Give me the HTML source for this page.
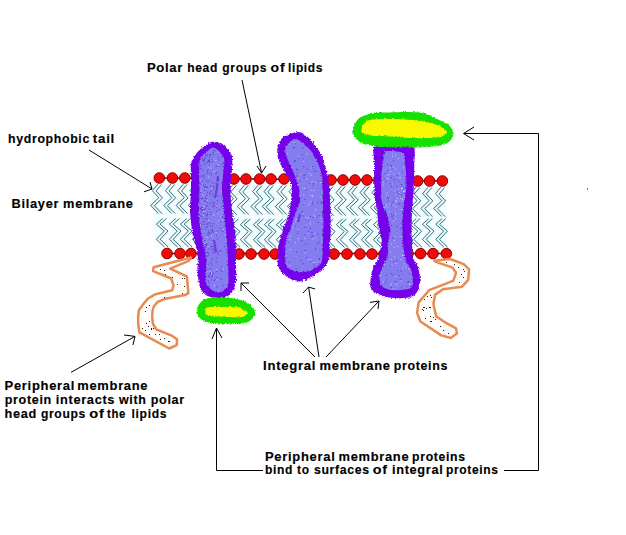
<!DOCTYPE html>
<html><head><meta charset="utf-8"><style>
html,body{margin:0;padding:0;background:#fff;}
svg{display:block;}
text{font-family:"Liberation Sans",sans-serif;}
</style></head><body>
<svg width="626" height="535" viewBox="0 0 626 535">
<rect width="626" height="535" fill="#fff"/>
<path d="M151,184 L446,187 L448,248 L155,248Z" fill="#f5fcfd"/>
<path d="M157.8,184.2 L152.4,190.6 L158.8,197.7 L150.6,205.4 L158.4,213.4 M161.5,184.5 L156.1,190.9 L162.5,198.0 L154.3,205.7 L162.1,213.7 M170.9,184.2 L165.5,190.6 L171.9,197.7 L163.7,205.4 L171.5,213.4 M174.6,184.5 L169.2,190.9 L175.6,198.0 L167.4,205.7 L175.2,213.7 M183.3,184.2 L177.9,190.6 L184.3,197.7 L176.1,205.4 L183.9,213.4 M187.0,184.5 L181.6,190.9 L188.0,198.0 L179.8,205.7 L187.6,213.7 M195.5,184.2 L190.1,190.6 L196.5,197.7 L188.3,205.4 L196.1,213.4 M199.2,184.5 L193.8,190.9 L200.2,198.0 L192.0,205.7 L199.8,213.7 M207.5,184.2 L202.1,190.6 L208.5,197.7 L200.3,205.4 L208.1,213.4 M211.2,184.5 L205.8,190.9 L212.2,198.0 L204.0,205.7 L211.8,213.7 M220.5,185.2 L215.1,191.6 L221.5,198.7 L213.3,206.4 L221.1,214.4 M224.2,185.5 L218.8,191.9 L225.2,199.0 L217.0,206.7 L224.8,214.7 M232.5,185.2 L227.1,191.6 L233.5,198.7 L225.3,206.4 L233.1,214.4 M236.2,185.5 L230.8,191.9 L237.2,199.0 L229.0,206.7 L236.8,214.7 M244.5,185.2 L239.1,191.6 L245.5,198.7 L237.3,206.4 L245.1,214.4 M248.2,185.5 L242.8,191.9 L249.2,199.0 L241.0,206.7 L248.8,214.7 M258.1,185.2 L252.7,191.6 L259.1,198.7 L250.9,206.4 L258.7,214.4 M261.8,185.5 L256.4,191.9 L262.8,199.0 L254.6,206.7 L262.4,214.7 M269.5,185.2 L264.1,191.6 L270.5,198.7 L262.3,206.4 L270.1,214.4 M273.2,185.5 L267.8,191.9 L274.2,199.0 L266.0,206.7 L273.8,214.7 M282.5,185.2 L277.1,191.6 L283.5,198.7 L275.3,206.4 L283.1,214.4 M286.2,185.5 L280.8,191.9 L287.2,199.0 L279.0,206.7 L286.8,214.7 M294.5,185.2 L289.1,191.6 L295.5,198.7 L287.3,206.4 L295.1,214.4 M298.2,185.5 L292.8,191.9 L299.2,199.0 L291.0,206.7 L298.8,214.7 M305.5,186.2 L300.1,192.6 L306.5,199.7 L298.3,207.4 L306.1,215.4 M309.2,186.5 L303.8,192.9 L310.2,200.0 L302.0,207.7 L309.8,215.7 M317.5,186.2 L312.1,192.6 L318.5,199.7 L310.3,207.4 L318.1,215.4 M321.2,186.5 L315.8,192.9 L322.2,200.0 L314.0,207.7 L321.8,215.7 M329.5,186.2 L324.1,192.6 L330.5,199.7 L322.3,207.4 L330.1,215.4 M333.2,186.5 L327.8,192.9 L334.2,200.0 L326.0,207.7 L333.8,215.7 M341.5,186.2 L336.1,192.6 L342.5,199.7 L334.3,207.4 L342.1,215.4 M345.2,186.5 L339.8,192.9 L346.2,200.0 L338.0,207.7 L345.8,215.7 M353.5,186.2 L348.1,192.6 L354.5,199.7 L346.3,207.4 L354.1,215.4 M357.2,186.5 L351.8,192.9 L358.2,200.0 L350.0,207.7 L357.8,215.7 M365.5,186.2 L360.1,192.6 L366.5,199.7 L358.3,207.4 L366.1,215.4 M369.2,186.5 L363.8,192.9 L370.2,200.0 L362.0,207.7 L369.8,215.7 M377.5,186.2 L372.1,192.6 L378.5,199.7 L370.3,207.4 L378.1,215.4 M381.2,186.5 L375.8,192.9 L382.2,200.0 L374.0,207.7 L381.8,215.7 M390.5,187.2 L385.1,193.6 L391.5,200.7 L383.3,208.4 L391.1,216.4 M394.2,187.5 L388.8,193.9 L395.2,201.0 L387.0,208.7 L394.8,216.7 M403.5,187.2 L398.1,193.6 L404.5,200.7 L396.3,208.4 L404.1,216.4 M407.2,187.5 L401.8,193.9 L408.2,201.0 L400.0,208.7 L407.8,216.7 M416.1,187.2 L410.7,193.6 L417.1,200.7 L408.9,208.4 L416.7,216.4 M419.8,187.5 L414.4,193.9 L420.8,201.0 L412.6,208.7 L420.4,216.7 M428.1,187.2 L422.7,193.6 L429.1,200.7 L420.9,208.4 L428.7,216.4 M431.8,187.5 L426.4,193.9 L432.8,201.0 L424.6,208.7 L432.4,216.7 M440.9,187.2 L435.5,193.6 L441.9,200.7 L433.7,208.4 L441.5,216.4 M444.6,187.5 L439.2,193.9 L445.6,201.0 L437.4,208.7 L445.2,216.7 M162.7,218.5 L156.4,224.2 L164.3,231.0 L156.4,239.3 L164.5,247.0 M166.4,218.5 L160.1,224.2 L168.0,231.0 L160.1,239.3 L168.2,247.0 M175.7,218.5 L169.4,224.2 L177.3,231.0 L169.4,239.3 L177.5,247.0 M179.4,218.5 L173.1,224.2 L181.0,231.0 L173.1,239.3 L181.2,247.0 M186.7,218.5 L180.4,224.2 L188.3,231.0 L180.4,239.3 L188.5,247.0 M190.4,218.5 L184.1,224.2 L192.0,231.0 L184.1,239.3 L192.2,247.0 M198.7,218.5 L192.4,224.2 L200.3,231.0 L192.4,239.3 L200.5,247.0 M202.4,218.5 L196.1,224.2 L204.0,231.0 L196.1,239.3 L204.2,247.0 M210.7,218.5 L204.4,224.2 L212.3,231.0 L204.4,239.3 L212.5,247.0 M214.4,218.5 L208.1,224.2 L216.0,231.0 L208.1,239.3 L216.2,247.0 M222.7,219.0 L216.4,224.7 L224.3,231.5 L216.4,239.8 L224.5,247.5 M226.4,219.0 L220.1,224.7 L228.0,231.5 L220.1,239.8 L228.2,247.5 M234.7,219.0 L228.4,224.7 L236.3,231.5 L228.4,239.8 L236.5,247.5 M238.4,219.0 L232.1,224.7 L240.0,231.5 L232.1,239.8 L240.2,247.5 M246.7,219.0 L240.4,224.7 L248.3,231.5 L240.4,239.8 L248.5,247.5 M250.4,219.0 L244.1,224.7 L252.0,231.5 L244.1,239.8 L252.2,247.5 M259.7,219.0 L253.4,224.7 L261.3,231.5 L253.4,239.8 L261.5,247.5 M263.4,219.0 L257.1,224.7 L265.0,231.5 L257.1,239.8 L265.2,247.5 M270.7,219.0 L264.4,224.7 L272.3,231.5 L264.4,239.8 L272.5,247.5 M274.4,219.0 L268.1,224.7 L276.0,231.5 L268.1,239.8 L276.2,247.5 M282.7,219.0 L276.4,224.7 L284.3,231.5 L276.4,239.8 L284.5,247.5 M286.4,219.0 L280.1,224.7 L288.0,231.5 L280.1,239.8 L288.2,247.5 M294.7,219.0 L288.4,224.7 L296.3,231.5 L288.4,239.8 L296.5,247.5 M298.4,219.0 L292.1,224.7 L300.0,231.5 L292.1,239.8 L300.2,247.5 M305.7,219.0 L299.4,224.7 L307.3,231.5 L299.4,239.8 L307.5,247.5 M309.4,219.0 L303.1,224.7 L311.0,231.5 L303.1,239.8 L311.2,247.5 M317.7,219.0 L311.4,224.7 L319.3,231.5 L311.4,239.8 L319.5,247.5 M321.4,219.0 L315.1,224.7 L323.0,231.5 L315.1,239.8 L323.2,247.5 M329.7,219.0 L323.4,224.7 L331.3,231.5 L323.4,239.8 L331.5,247.5 M333.4,219.0 L327.1,224.7 L335.0,231.5 L327.1,239.8 L335.2,247.5 M342.7,219.0 L336.4,224.7 L344.3,231.5 L336.4,239.8 L344.5,247.5 M346.4,219.0 L340.1,224.7 L348.0,231.5 L340.1,239.8 L348.2,247.5 M355.7,219.0 L349.4,224.7 L357.3,231.5 L349.4,239.8 L357.5,247.5 M359.4,219.0 L353.1,224.7 L361.0,231.5 L353.1,239.8 L361.2,247.5 M367.7,219.0 L361.4,224.7 L369.3,231.5 L361.4,239.8 L369.5,247.5 M371.4,219.0 L365.1,224.7 L373.0,231.5 L365.1,239.8 L373.2,247.5 M379.7,219.0 L373.4,224.7 L381.3,231.5 L373.4,239.8 L381.5,247.5 M383.4,219.0 L377.1,224.7 L385.0,231.5 L377.1,239.8 L385.2,247.5 M391.7,218.6 L385.4,224.3 L393.3,231.1 L385.4,239.4 L393.5,247.1 M395.4,218.6 L389.1,224.3 L397.0,231.1 L389.1,239.4 L397.2,247.1 M403.7,218.6 L397.4,224.3 L405.3,231.1 L397.4,239.4 L405.5,247.1 M407.4,218.6 L401.1,224.3 L409.0,231.1 L401.1,239.4 L409.2,247.1 M416.3,218.6 L410.0,224.3 L417.9,231.1 L410.0,239.4 L418.1,247.1 M420.0,218.6 L413.7,224.3 L421.6,231.1 L413.7,239.4 L421.8,247.1 M428.7,218.6 L422.4,224.3 L430.3,231.1 L422.4,239.4 L430.5,247.1 M432.4,218.6 L426.1,224.3 L434.0,231.1 L426.1,239.4 L434.2,247.1 M442.1,218.6 L435.8,224.3 L443.7,231.1 L435.8,239.4 L443.9,247.1 M445.8,218.6 L439.5,224.3 L447.4,231.1 L439.5,239.4 L447.6,247.1" fill="none" stroke="#ecfbfc" stroke-width="3"/>
<path d="M157.8,184.2 L152.4,190.6 L158.8,197.7 L150.6,205.4 L158.4,213.4 M161.5,184.5 L156.1,190.9 L162.5,198.0 L154.3,205.7 L162.1,213.7 M170.9,184.2 L165.5,190.6 L171.9,197.7 L163.7,205.4 L171.5,213.4 M174.6,184.5 L169.2,190.9 L175.6,198.0 L167.4,205.7 L175.2,213.7 M183.3,184.2 L177.9,190.6 L184.3,197.7 L176.1,205.4 L183.9,213.4 M187.0,184.5 L181.6,190.9 L188.0,198.0 L179.8,205.7 L187.6,213.7 M195.5,184.2 L190.1,190.6 L196.5,197.7 L188.3,205.4 L196.1,213.4 M199.2,184.5 L193.8,190.9 L200.2,198.0 L192.0,205.7 L199.8,213.7 M207.5,184.2 L202.1,190.6 L208.5,197.7 L200.3,205.4 L208.1,213.4 M211.2,184.5 L205.8,190.9 L212.2,198.0 L204.0,205.7 L211.8,213.7 M220.5,185.2 L215.1,191.6 L221.5,198.7 L213.3,206.4 L221.1,214.4 M224.2,185.5 L218.8,191.9 L225.2,199.0 L217.0,206.7 L224.8,214.7 M232.5,185.2 L227.1,191.6 L233.5,198.7 L225.3,206.4 L233.1,214.4 M236.2,185.5 L230.8,191.9 L237.2,199.0 L229.0,206.7 L236.8,214.7 M244.5,185.2 L239.1,191.6 L245.5,198.7 L237.3,206.4 L245.1,214.4 M248.2,185.5 L242.8,191.9 L249.2,199.0 L241.0,206.7 L248.8,214.7 M258.1,185.2 L252.7,191.6 L259.1,198.7 L250.9,206.4 L258.7,214.4 M261.8,185.5 L256.4,191.9 L262.8,199.0 L254.6,206.7 L262.4,214.7 M269.5,185.2 L264.1,191.6 L270.5,198.7 L262.3,206.4 L270.1,214.4 M273.2,185.5 L267.8,191.9 L274.2,199.0 L266.0,206.7 L273.8,214.7 M282.5,185.2 L277.1,191.6 L283.5,198.7 L275.3,206.4 L283.1,214.4 M286.2,185.5 L280.8,191.9 L287.2,199.0 L279.0,206.7 L286.8,214.7 M294.5,185.2 L289.1,191.6 L295.5,198.7 L287.3,206.4 L295.1,214.4 M298.2,185.5 L292.8,191.9 L299.2,199.0 L291.0,206.7 L298.8,214.7 M305.5,186.2 L300.1,192.6 L306.5,199.7 L298.3,207.4 L306.1,215.4 M309.2,186.5 L303.8,192.9 L310.2,200.0 L302.0,207.7 L309.8,215.7 M317.5,186.2 L312.1,192.6 L318.5,199.7 L310.3,207.4 L318.1,215.4 M321.2,186.5 L315.8,192.9 L322.2,200.0 L314.0,207.7 L321.8,215.7 M329.5,186.2 L324.1,192.6 L330.5,199.7 L322.3,207.4 L330.1,215.4 M333.2,186.5 L327.8,192.9 L334.2,200.0 L326.0,207.7 L333.8,215.7 M341.5,186.2 L336.1,192.6 L342.5,199.7 L334.3,207.4 L342.1,215.4 M345.2,186.5 L339.8,192.9 L346.2,200.0 L338.0,207.7 L345.8,215.7 M353.5,186.2 L348.1,192.6 L354.5,199.7 L346.3,207.4 L354.1,215.4 M357.2,186.5 L351.8,192.9 L358.2,200.0 L350.0,207.7 L357.8,215.7 M365.5,186.2 L360.1,192.6 L366.5,199.7 L358.3,207.4 L366.1,215.4 M369.2,186.5 L363.8,192.9 L370.2,200.0 L362.0,207.7 L369.8,215.7 M377.5,186.2 L372.1,192.6 L378.5,199.7 L370.3,207.4 L378.1,215.4 M381.2,186.5 L375.8,192.9 L382.2,200.0 L374.0,207.7 L381.8,215.7 M390.5,187.2 L385.1,193.6 L391.5,200.7 L383.3,208.4 L391.1,216.4 M394.2,187.5 L388.8,193.9 L395.2,201.0 L387.0,208.7 L394.8,216.7 M403.5,187.2 L398.1,193.6 L404.5,200.7 L396.3,208.4 L404.1,216.4 M407.2,187.5 L401.8,193.9 L408.2,201.0 L400.0,208.7 L407.8,216.7 M416.1,187.2 L410.7,193.6 L417.1,200.7 L408.9,208.4 L416.7,216.4 M419.8,187.5 L414.4,193.9 L420.8,201.0 L412.6,208.7 L420.4,216.7 M428.1,187.2 L422.7,193.6 L429.1,200.7 L420.9,208.4 L428.7,216.4 M431.8,187.5 L426.4,193.9 L432.8,201.0 L424.6,208.7 L432.4,216.7 M440.9,187.2 L435.5,193.6 L441.9,200.7 L433.7,208.4 L441.5,216.4 M444.6,187.5 L439.2,193.9 L445.6,201.0 L437.4,208.7 L445.2,216.7 M162.7,218.5 L156.4,224.2 L164.3,231.0 L156.4,239.3 L164.5,247.0 M166.4,218.5 L160.1,224.2 L168.0,231.0 L160.1,239.3 L168.2,247.0 M175.7,218.5 L169.4,224.2 L177.3,231.0 L169.4,239.3 L177.5,247.0 M179.4,218.5 L173.1,224.2 L181.0,231.0 L173.1,239.3 L181.2,247.0 M186.7,218.5 L180.4,224.2 L188.3,231.0 L180.4,239.3 L188.5,247.0 M190.4,218.5 L184.1,224.2 L192.0,231.0 L184.1,239.3 L192.2,247.0 M198.7,218.5 L192.4,224.2 L200.3,231.0 L192.4,239.3 L200.5,247.0 M202.4,218.5 L196.1,224.2 L204.0,231.0 L196.1,239.3 L204.2,247.0 M210.7,218.5 L204.4,224.2 L212.3,231.0 L204.4,239.3 L212.5,247.0 M214.4,218.5 L208.1,224.2 L216.0,231.0 L208.1,239.3 L216.2,247.0 M222.7,219.0 L216.4,224.7 L224.3,231.5 L216.4,239.8 L224.5,247.5 M226.4,219.0 L220.1,224.7 L228.0,231.5 L220.1,239.8 L228.2,247.5 M234.7,219.0 L228.4,224.7 L236.3,231.5 L228.4,239.8 L236.5,247.5 M238.4,219.0 L232.1,224.7 L240.0,231.5 L232.1,239.8 L240.2,247.5 M246.7,219.0 L240.4,224.7 L248.3,231.5 L240.4,239.8 L248.5,247.5 M250.4,219.0 L244.1,224.7 L252.0,231.5 L244.1,239.8 L252.2,247.5 M259.7,219.0 L253.4,224.7 L261.3,231.5 L253.4,239.8 L261.5,247.5 M263.4,219.0 L257.1,224.7 L265.0,231.5 L257.1,239.8 L265.2,247.5 M270.7,219.0 L264.4,224.7 L272.3,231.5 L264.4,239.8 L272.5,247.5 M274.4,219.0 L268.1,224.7 L276.0,231.5 L268.1,239.8 L276.2,247.5 M282.7,219.0 L276.4,224.7 L284.3,231.5 L276.4,239.8 L284.5,247.5 M286.4,219.0 L280.1,224.7 L288.0,231.5 L280.1,239.8 L288.2,247.5 M294.7,219.0 L288.4,224.7 L296.3,231.5 L288.4,239.8 L296.5,247.5 M298.4,219.0 L292.1,224.7 L300.0,231.5 L292.1,239.8 L300.2,247.5 M305.7,219.0 L299.4,224.7 L307.3,231.5 L299.4,239.8 L307.5,247.5 M309.4,219.0 L303.1,224.7 L311.0,231.5 L303.1,239.8 L311.2,247.5 M317.7,219.0 L311.4,224.7 L319.3,231.5 L311.4,239.8 L319.5,247.5 M321.4,219.0 L315.1,224.7 L323.0,231.5 L315.1,239.8 L323.2,247.5 M329.7,219.0 L323.4,224.7 L331.3,231.5 L323.4,239.8 L331.5,247.5 M333.4,219.0 L327.1,224.7 L335.0,231.5 L327.1,239.8 L335.2,247.5 M342.7,219.0 L336.4,224.7 L344.3,231.5 L336.4,239.8 L344.5,247.5 M346.4,219.0 L340.1,224.7 L348.0,231.5 L340.1,239.8 L348.2,247.5 M355.7,219.0 L349.4,224.7 L357.3,231.5 L349.4,239.8 L357.5,247.5 M359.4,219.0 L353.1,224.7 L361.0,231.5 L353.1,239.8 L361.2,247.5 M367.7,219.0 L361.4,224.7 L369.3,231.5 L361.4,239.8 L369.5,247.5 M371.4,219.0 L365.1,224.7 L373.0,231.5 L365.1,239.8 L373.2,247.5 M379.7,219.0 L373.4,224.7 L381.3,231.5 L373.4,239.8 L381.5,247.5 M383.4,219.0 L377.1,224.7 L385.0,231.5 L377.1,239.8 L385.2,247.5 M391.7,218.6 L385.4,224.3 L393.3,231.1 L385.4,239.4 L393.5,247.1 M395.4,218.6 L389.1,224.3 L397.0,231.1 L389.1,239.4 L397.2,247.1 M403.7,218.6 L397.4,224.3 L405.3,231.1 L397.4,239.4 L405.5,247.1 M407.4,218.6 L401.1,224.3 L409.0,231.1 L401.1,239.4 L409.2,247.1 M416.3,218.6 L410.0,224.3 L417.9,231.1 L410.0,239.4 L418.1,247.1 M420.0,218.6 L413.7,224.3 L421.6,231.1 L413.7,239.4 L421.8,247.1 M428.7,218.6 L422.4,224.3 L430.3,231.1 L422.4,239.4 L430.5,247.1 M432.4,218.6 L426.1,224.3 L434.0,231.1 L426.1,239.4 L434.2,247.1 M442.1,218.6 L435.8,224.3 L443.7,231.1 L435.8,239.4 L443.9,247.1 M445.8,218.6 L439.5,224.3 L447.4,231.1 L439.5,239.4 L447.6,247.1" fill="none" stroke="#2f6878" stroke-width="0.95"/>
<path d="M159,178 L442,181 M167,253.5 L446,253.6" stroke="#700" stroke-width="1.5"/>
<g fill="#f00a0a" stroke="#900000" stroke-width="1"><circle cx="159.3" cy="178" r="5.3"/><circle cx="172.4" cy="178" r="5.3"/><circle cx="184.8" cy="178" r="5.3"/><circle cx="197" cy="178" r="5.3"/><circle cx="209" cy="178" r="5.3"/><circle cx="222" cy="179" r="5.3"/><circle cx="234" cy="179" r="5.3"/><circle cx="246" cy="179" r="5.3"/><circle cx="259.6" cy="179" r="5.3"/><circle cx="271" cy="179" r="5.3"/><circle cx="284" cy="179" r="5.3"/><circle cx="296" cy="179" r="5.3"/><circle cx="307" cy="180" r="5.3"/><circle cx="319" cy="180" r="5.3"/><circle cx="331" cy="180" r="5.3"/><circle cx="343" cy="180" r="5.3"/><circle cx="355" cy="180" r="5.3"/><circle cx="367" cy="180" r="5.3"/><circle cx="379" cy="180" r="5.3"/><circle cx="392" cy="181" r="5.3"/><circle cx="405" cy="181" r="5.3"/><circle cx="417.6" cy="181" r="5.3"/><circle cx="429.6" cy="181" r="5.3"/><circle cx="442.4" cy="181" r="5.3"/><circle cx="167" cy="253.5" r="5.3"/><circle cx="180" cy="253.5" r="5.3"/><circle cx="191" cy="253.5" r="5.3"/><circle cx="203" cy="253.5" r="5.3"/><circle cx="215" cy="253.5" r="5.3"/><circle cx="227" cy="254" r="5.3"/><circle cx="239" cy="254" r="5.3"/><circle cx="251" cy="254" r="5.3"/><circle cx="264" cy="254" r="5.3"/><circle cx="275" cy="254" r="5.3"/><circle cx="287" cy="254" r="5.3"/><circle cx="299" cy="254" r="5.3"/><circle cx="310" cy="254" r="5.3"/><circle cx="322" cy="254" r="5.3"/><circle cx="334" cy="254" r="5.3"/><circle cx="347" cy="254" r="5.3"/><circle cx="360" cy="254" r="5.3"/><circle cx="372" cy="254" r="5.3"/><circle cx="384" cy="254" r="5.3"/><circle cx="396" cy="253.6" r="5.3"/><circle cx="408" cy="253.6" r="5.3"/><circle cx="420.6" cy="253.6" r="5.3"/><circle cx="433" cy="253.6" r="5.3"/><circle cx="446.4" cy="253.6" r="5.3"/></g>
<path d="M190.8,257.5 L153.5,267.3 L153.1,271.2 L171.2,278.5 L173.5,285.3 L172.2,290.2 L155.5,294.2 L148.0,298.5 L142.7,304.9 L139.0,310.0 L138.2,316.0 L138.2,324.0 L139.4,332.4 L169.2,348.5 L176.7,345.1 L177.1,339.3 L171.2,335.3 L156.5,329.5 L153.0,324.0 L152.2,317.7 L152.5,311.0 L153.8,306.5 L157.5,302.0 L164.3,299.1 L184.9,295.1 L188.4,293.2 L186.9,276.5 L170.2,268.7 L188.8,260.8Z" fill="#fffdf9" stroke="#e98a52" stroke-width="2.5" stroke-linejoin="round"/>
<path d="M434.3,260.7 L450.0,259.0 L463.8,264.2 L469.1,269.4 L468.2,279.8 L462.1,286.7 L443.0,289.3 L435.2,294.6 L433.4,304.1 L436.1,316.3 L446.5,323.2 L456.0,328.4 L456.9,333.6 L450.8,338.0 L441.3,335.4 L420.4,321.5 L417.0,312.8 L418.7,302.4 L429.1,290.2 L444.7,284.1 L453.4,280.7 L456.0,272.8 L452.6,267.6 L435.2,261.6Z" fill="#fffdf9" stroke="#e98a52" stroke-width="2.5" stroke-linejoin="round"/>
<defs><filter id="fz" x="-10%" y="-10%" width="120%" height="120%"><feTurbulence type="turbulence" baseFrequency="0.9" numOctaves="1" seed="3" result="n"/><feDisplacementMap in="SourceGraphic" in2="n" scale="3.2" xChannelSelector="R" yChannelSelector="G"/></filter><filter id="fz2" x="-10%" y="-10%" width="120%" height="120%"><feTurbulence type="turbulence" baseFrequency="0.9" numOctaves="1" seed="7" result="n"/><feDisplacementMap in="SourceGraphic" in2="n" scale="2.2" xChannelSelector="R" yChannelSelector="G"/></filter></defs>
<path d="M211.4,140.8 C213.9,140.5 217.6,141.3 220.0,142.4 C222.4,143.5 223.9,145.3 225.7,147.2 C227.4,149.1 229.6,151.1 230.5,153.6 C231.4,156.1 231.3,158.8 231.3,162.4 C231.3,166.0 230.8,170.4 230.5,175.0 C230.2,179.6 229.4,184.2 229.5,190.0 C229.6,195.8 230.2,203.3 231.0,210.0 C231.8,216.7 233.3,223.0 234.0,230.0 C234.7,237.0 234.8,246.5 235.0,252.0 C235.2,257.5 235.0,258.5 235.0,263.0 C235.0,267.5 235.5,274.6 235.0,279.0 C234.5,283.4 233.6,286.8 232.0,289.5 C230.4,292.2 228.7,294.3 225.3,295.5 C221.9,296.7 215.5,297.0 211.8,296.5 C208.1,296.0 205.4,294.6 203.2,292.5 C201.0,290.4 199.5,287.9 198.4,284.0 C197.3,280.1 196.8,274.7 196.5,269.4 C196.2,264.1 197.2,257.7 196.5,252.0 C195.8,246.3 193.2,242.0 192.0,235.0 C190.8,228.0 189.3,217.5 189.0,210.0 C188.7,202.5 189.9,196.7 190.0,190.0 C190.1,183.3 189.8,174.7 189.8,170.0 C189.8,165.3 189.8,164.1 190.2,162.0 C190.6,159.9 191.1,159.5 192.2,157.6 C193.3,155.7 194.9,152.7 197.0,150.4 C199.1,148.1 202.6,145.6 205.0,144.0 C207.4,142.4 208.9,141.1 211.4,140.8Z" fill="#7406ea" filter="url(#fz)"/>
<path d="M212.0,146.4 C214.5,146.4 218.1,149.7 220.0,152.0 C221.9,154.3 223.0,156.2 223.3,160.0 C223.6,163.8 222.4,170.0 222.0,175.0 C221.6,180.0 220.8,185.0 221.0,190.0 C221.2,195.0 222.5,200.0 223.0,205.0 C223.5,210.0 223.5,214.2 224.0,220.0 C224.5,225.8 225.5,232.6 226.0,240.0 C226.5,247.4 227.0,257.3 227.2,264.6 C227.4,271.9 227.8,279.7 227.2,283.8 C226.6,287.9 225.3,288.2 223.4,289.5 C221.5,290.8 218.3,291.9 215.7,291.4 C213.1,290.9 209.8,288.7 208.0,286.6 C206.2,284.5 205.6,284.3 205.1,279.0 C204.6,273.7 205.9,262.3 205.1,255.0 C204.3,247.7 201.7,241.7 200.5,235.0 C199.3,228.3 198.3,222.5 198.0,215.0 C197.7,207.5 198.4,199.2 198.5,190.0 C198.6,180.8 197.5,166.3 198.6,160.0 C199.7,153.7 202.8,154.3 205.0,152.0 C207.2,149.7 209.5,146.4 212.0,146.4Z" fill="#857cf0" filter="url(#fz2)"/>
<path d="M295.9,131.3 C298.9,131.0 300.2,131.3 302.6,132.7 C305.0,134.0 308.1,137.0 310.3,139.4 C312.5,141.8 314.2,144.5 316.0,147.1 C317.8,149.7 319.5,152.1 320.8,154.8 C322.1,157.5 322.8,160.5 323.7,163.4 C324.6,166.3 325.3,168.4 326.0,172.0 C326.7,175.6 327.5,180.3 328.0,185.0 C328.5,189.7 328.7,194.0 329.0,200.0 C329.3,206.0 329.7,214.0 329.7,221.0 C329.7,228.0 329.2,236.8 329.0,242.0 C328.8,247.2 328.7,249.0 328.2,252.5 C327.7,256.0 327.7,259.7 326.0,262.8 C324.3,265.9 320.6,268.9 317.8,271.2 C315.1,273.4 312.6,274.8 309.5,276.3 C306.4,277.9 302.1,280.1 299.0,280.5 C295.9,280.9 293.6,279.6 290.8,278.4 C288.1,277.2 284.8,275.3 282.5,273.2 C280.2,271.1 278.3,269.8 277.3,266.0 C276.3,262.2 276.5,254.7 276.7,250.4 C276.9,246.1 277.5,243.2 278.3,240.0 C279.1,236.8 280.4,234.2 281.5,231.0 C282.6,227.8 283.9,224.3 285.0,221.0 C286.1,217.7 287.2,214.5 288.0,211.0 C288.8,207.5 289.6,204.3 290.0,200.0 C290.4,195.7 291.2,189.2 290.5,185.0 C289.8,180.8 287.7,178.3 286.0,175.0 C284.3,171.7 281.9,168.0 280.5,165.3 C279.1,162.6 278.4,161.0 277.7,158.6 C277.0,156.2 276.2,153.6 276.2,150.9 C276.2,148.2 276.3,145.0 277.7,142.3 C279.1,139.6 281.4,136.4 284.4,134.6 C287.4,132.8 292.9,131.6 295.9,131.3Z" fill="#7406ea" filter="url(#fz)"/>
<path d="M294.0,138.5 C296.1,138.0 297.3,138.8 299.7,140.4 C302.1,142.0 306.0,145.4 308.4,148.0 C310.8,150.6 312.5,153.0 314.1,155.7 C315.7,158.4 316.9,161.2 318.0,164.4 C319.1,167.6 320.3,170.7 321.0,175.0 C321.7,179.3 321.8,185.0 322.0,190.0 C322.2,195.0 321.9,199.8 322.0,205.0 C322.1,210.2 322.5,215.2 322.5,221.0 C322.5,226.8 322.1,235.1 322.0,240.0 C321.9,244.9 322.4,246.6 322.0,250.4 C321.6,254.2 321.6,259.7 319.8,262.8 C318.1,265.9 315.0,267.6 311.5,269.0 C308.0,270.4 302.8,271.4 299.0,271.2 C295.2,271.0 291.1,269.7 288.7,268.0 C286.3,266.3 285.1,265.1 284.5,260.8 C283.9,256.5 284.3,247.0 285.0,242.0 C285.7,237.0 287.4,234.5 288.6,231.0 C289.8,227.5 290.9,224.3 292.0,221.0 C293.1,217.7 293.8,214.5 295.0,211.0 C296.2,207.5 298.6,204.3 299.0,200.0 C299.4,195.7 298.3,189.2 297.5,185.0 C296.7,180.8 295.2,178.3 294.0,175.0 C292.8,171.7 291.4,168.2 290.1,165.3 C288.8,162.4 287.2,160.2 286.3,157.6 C285.4,155.0 284.2,152.4 284.4,150.0 C284.6,147.6 285.7,145.2 287.3,143.3 C288.9,141.4 291.9,139.0 294.0,138.5Z" fill="#857cf0" filter="url(#fz2)"/>
<path d="M380.0,145.0 C385.5,144.7 400.5,144.7 406.0,145.0 C411.5,145.3 412.0,143.7 413.2,147.0 C414.4,150.3 413.4,157.8 413.3,165.0 C413.2,172.2 412.9,182.5 412.5,190.0 C412.1,197.5 411.3,203.0 411.0,210.0 C410.7,217.0 410.5,227.0 410.5,232.0 C410.5,237.0 410.8,235.9 411.0,240.0 C411.2,244.1 411.1,252.7 412.0,256.8 C412.9,260.9 415.5,261.5 416.6,264.7 C417.7,267.9 418.6,272.2 418.8,275.9 C419.0,279.6 418.8,283.8 417.7,287.0 C416.6,290.2 415.2,293.3 412.0,295.0 C408.8,296.7 403.6,297.2 398.6,297.2 C393.6,297.2 386.5,296.5 381.8,295.0 C377.1,293.5 372.7,290.8 370.6,288.2 C368.6,285.6 369.3,282.6 369.5,279.2 C369.7,275.8 370.4,271.7 371.7,268.0 C373.0,264.3 375.8,261.5 377.3,256.8 C378.8,252.1 380.5,244.1 380.7,240.0 C380.9,235.9 379.3,237.0 378.5,232.0 C377.7,227.0 376.8,217.0 376.0,210.0 C375.2,203.0 374.0,197.5 373.5,190.0 C373.0,182.5 373.1,172.2 373.0,165.0 C372.9,157.8 371.6,150.3 372.8,147.0 C374.0,143.7 374.5,145.3 380.0,145.0Z" fill="#7406ea" filter="url(#fz)"/>
<path d="M387.4,150.0 C390.5,149.8 399.2,150.2 402.0,152.3 C404.8,154.4 403.6,157.0 404.2,162.4 C404.8,167.8 405.5,178.5 405.4,184.8 C405.3,191.1 404.3,195.1 403.7,200.0 C403.1,204.9 402.4,209.0 402.0,214.0 C401.6,219.0 401.5,225.7 401.5,230.0 C401.5,234.3 401.6,235.5 402.0,240.0 C402.4,244.5 402.9,252.1 404.2,256.8 C405.5,261.5 408.5,264.5 409.8,268.0 C411.1,271.5 412.0,274.8 412.0,278.0 C412.0,281.2 413.0,285.1 409.8,287.0 C406.6,288.9 397.7,289.5 393.0,289.3 C388.3,289.1 384.2,288.1 381.8,286.0 C379.4,283.9 378.7,280.0 378.5,277.0 C378.3,274.0 379.4,271.4 380.7,268.0 C382.0,264.6 385.2,261.5 386.3,256.8 C387.4,252.1 386.9,244.5 387.4,240.0 C387.9,235.5 389.7,234.3 389.5,230.0 C389.3,225.7 387.5,219.0 386.0,214.0 C384.5,209.0 381.6,206.7 380.7,200.0 C379.8,193.3 380.2,181.3 380.7,173.6 C381.2,165.8 382.4,157.4 383.5,153.5 C384.6,149.6 384.3,150.2 387.4,150.0Z" fill="#857cf0" filter="url(#fz2)"/>
<path d="M218,176 L217,188 L215,198 M214,240 L216,252 M300,214 L298,222" stroke="#5d2ad0" stroke-width="2.2" fill="none" opacity="0.7"/>
<path d="M198.8,213.9h1v1h-1zM217.0,277.0h1v1h-1zM211.7,182.2h1v1h-1zM204.3,186.9h1v1h-1zM202.1,235.9h1v1h-1zM204.1,177.6h1v1h-1zM206.7,198.8h1v1h-1zM202.3,155.8h1v1h-1zM217.8,195.4h1v1h-1zM221.9,216.1h1v1h-1zM212.1,248.6h1v1h-1zM219.9,268.9h1v1h-1zM225.1,283.0h1v1h-1zM208.4,222.5h1v1h-1zM221.3,271.1h1v1h-1zM207.9,235.0h1v1h-1zM207.9,280.4h1v1h-1zM207.1,192.3h1v1h-1zM200.3,168.0h1v1h-1zM213.6,205.3h1v1h-1zM210.3,154.5h1v1h-1zM199.0,218.0h1v1h-1zM201.1,209.4h1v1h-1zM212.3,252.2h1v1h-1zM206.5,204.9h1v1h-1zM212.6,195.5h1v1h-1zM206.0,259.8h1v1h-1zM208.6,260.4h1v1h-1zM208.6,248.5h1v1h-1zM212.2,258.0h1v1h-1zM217.0,230.6h1v1h-1zM214.0,182.8h1v1h-1zM211.5,264.8h1v1h-1zM213.1,223.2h1v1h-1zM202.7,210.4h1v1h-1zM204.4,245.9h1v1h-1zM199.2,214.8h1v1h-1zM199.6,165.8h1v1h-1zM203.3,174.4h1v1h-1zM211.6,201.5h1v1h-1zM206.1,205.9h1v1h-1zM222.3,200.6h1v1h-1zM207.9,230.6h1v1h-1zM216.8,200.0h1v1h-1zM208.3,276.0h1v1h-1zM201.2,228.4h1v1h-1zM202.1,237.7h1v1h-1zM209.0,209.0h1v1h-1zM209.1,285.8h1v1h-1zM212.5,206.6h1v1h-1zM206.4,215.6h1v1h-1zM216.2,210.7h1v1h-1zM220.8,266.3h1v1h-1zM213.6,186.1h1v1h-1zM220.8,182.0h1v1h-1zM206.6,234.6h1v1h-1zM206.8,223.8h1v1h-1zM206.7,223.2h1v1h-1zM208.5,254.4h1v1h-1zM199.1,183.0h1v1h-1zM210.5,229.9h1v1h-1zM209.3,203.2h1v1h-1zM203.7,189.4h1v1h-1zM218.3,209.2h1v1h-1zM220.8,278.4h1v1h-1zM212.0,226.0h1v1h-1zM207.7,168.7h1v1h-1zM221.7,156.3h1v1h-1zM204.4,240.0h1v1h-1zM218.8,165.9h1v1h-1zM215.8,206.4h1v1h-1zM216.2,152.7h1v1h-1zM209.1,156.8h1v1h-1zM201.9,209.0h1v1h-1zM208.9,154.5h1v1h-1zM202.4,237.9h1v1h-1zM205.7,226.4h1v1h-1zM219.9,221.4h1v1h-1zM204.8,200.2h1v1h-1zM200.7,164.5h1v1h-1zM212.0,193.3h1v1h-1zM199.6,168.3h1v1h-1zM217.9,178.7h1v1h-1zM208.3,180.5h1v1h-1zM211.7,275.4h1v1h-1zM210.5,213.9h1v1h-1zM202.5,169.5h1v1h-1zM209.3,274.0h1v1h-1zM205.4,186.6h1v1h-1zM206.4,180.5h1v1h-1zM208.8,282.4h1v1h-1zM206.5,244.2h1v1h-1zM202.8,175.5h1v1h-1zM204.7,157.7h1v1h-1zM207.1,214.3h1v1h-1zM219.4,250.5h1v1h-1zM205.0,243.9h1v1h-1zM220.8,205.9h1v1h-1zM208.2,160.0h1v1h-1zM205.1,153.7h1v1h-1zM199.8,183.4h1v1h-1zM206.9,153.8h1v1h-1zM212.9,204.7h1v1h-1zM200.5,191.9h1v1h-1zM213.8,280.0h1v1h-1zM212.2,229.3h1v1h-1zM207.0,211.5h1v1h-1zM204.5,163.2h1v1h-1zM201.8,158.3h1v1h-1zM200.5,208.6h1v1h-1zM205.2,155.3h1v1h-1zM199.4,175.4h1v1h-1zM208.9,160.7h1v1h-1zM207.2,255.5h1v1h-1zM209.2,165.3h1v1h-1zM202.9,184.5h1v1h-1zM206.3,155.6h1v1h-1zM214.3,150.4h1v1h-1zM201.8,198.2h1v1h-1zM204.7,208.6h1v1h-1zM200.8,223.3h1v1h-1zM221.2,163.5h1v1h-1zM210.7,210.4h1v1h-1zM210.2,154.0h1v1h-1zM212.1,274.3h1v1h-1zM204.3,186.6h1v1h-1zM205.1,197.4h1v1h-1zM216.1,204.5h1v1h-1zM222.3,217.5h1v1h-1zM203.0,160.7h1v1h-1zM212.9,231.5h1v1h-1zM209.4,192.4h1v1h-1zM207.1,201.9h1v1h-1zM208.6,232.5h1v1h-1zM213.2,187.6h1v1h-1zM200.5,198.0h1v1h-1zM220.2,250.0h1v1h-1zM209.4,172.2h1v1h-1zM209.3,162.2h1v1h-1zM206.9,185.2h1v1h-1zM216.5,257.5h1v1h-1zM199.8,228.5h1v1h-1zM210.4,223.1h1v1h-1zM206.8,187.1h1v1h-1zM198.9,163.2h1v1h-1zM215.6,173.1h1v1h-1zM222.4,285.2h1v1h-1zM204.7,247.4h1v1h-1zM211.9,161.0h1v1h-1zM202.6,159.9h1v1h-1zM216.3,286.3h1v1h-1zM204.0,200.7h1v1h-1zM217.9,254.1h1v1h-1zM209.8,225.2h1v1h-1zM201.4,233.0h1v1h-1zM220.2,251.0h1v1h-1zM201.4,215.9h1v1h-1zM206.5,218.7h1v1h-1zM221.0,229.9h1v1h-1zM207.8,269.4h1v1h-1zM199.5,207.4h1v1h-1zM217.5,157.0h1v1h-1zM200.8,215.6h1v1h-1zM213.8,202.4h1v1h-1zM200.7,198.0h1v1h-1zM205.3,212.8h1v1h-1zM213.1,154.1h1v1h-1zM211.8,158.8h1v1h-1zM199.5,203.3h1v1h-1zM210.7,232.5h1v1h-1zM216.8,238.6h1v1h-1zM210.1,273.2h1v1h-1zM210.3,185.7h1v1h-1zM206.4,243.0h1v1h-1zM202.9,212.8h1v1h-1zM209.1,276.5h1v1h-1zM202.0,180.7h1v1h-1zM203.4,208.6h1v1h-1zM202.4,221.6h1v1h-1zM218.5,159.5h1v1h-1zM211.9,230.7h1v1h-1zM205.0,228.9h1v1h-1zM213.9,252.5h1v1h-1zM212.0,248.7h1v1h-1zM215.8,261.4h1v1h-1zM212.6,152.0h1v1h-1zM206.7,211.7h1v1h-1zM213.5,249.8h1v1h-1zM206.8,170.6h1v1h-1zM200.3,211.5h1v1h-1zM213.4,202.8h1v1h-1zM206.7,226.4h1v1h-1zM202.0,197.3h1v1h-1zM199.7,159.1h1v1h-1zM205.7,186.4h1v1h-1zM205.2,184.6h1v1h-1zM210.8,276.5h1v1h-1zM219.6,227.8h1v1h-1zM212.4,272.7h1v1h-1zM215.9,235.1h1v1h-1zM211.4,240.5h1v1h-1zM205.6,189.7h1v1h-1zM211.6,168.9h1v1h-1zM204.0,159.2h1v1h-1zM200.3,208.1h1v1h-1zM217.0,171.7h1v1h-1zM212.3,246.0h1v1h-1zM214.7,278.7h1v1h-1zM205.8,218.0h1v1h-1zM210.3,260.1h1v1h-1zM206.6,162.0h1v1h-1zM208.4,275.4h1v1h-1zM207.8,161.3h1v1h-1zM222.7,230.9h1v1h-1zM216.6,251.4h1v1h-1zM209.9,194.2h1v1h-1zM210.0,272.5h1v1h-1zM206.8,172.5h1v1h-1zM201.0,206.7h1v1h-1zM206.5,162.0h1v1h-1zM201.4,224.3h1v1h-1zM210.8,185.9h1v1h-1zM204.1,221.0h1v1h-1zM209.1,238.3h1v1h-1zM207.5,264.0h1v1h-1zM210.9,279.5h1v1h-1zM212.6,187.6h1v1h-1zM205.5,214.6h1v1h-1zM215.7,165.9h1v1h-1zM218.3,252.1h1v1h-1zM202.9,159.4h1v1h-1zM216.1,270.7h1v1h-1zM205.4,198.1h1v1h-1zM207.8,232.2h1v1h-1zM212.3,273.1h1v1h-1zM206.2,194.8h1v1h-1zM201.9,207.3h1v1h-1zM207.1,270.1h1v1h-1zM210.3,267.9h1v1h-1zM207.9,252.5h1v1h-1zM202.7,218.1h1v1h-1zM199.3,224.0h1v1h-1zM201.5,175.8h1v1h-1zM216.8,179.6h1v1h-1zM210.7,190.8h1v1h-1zM208.9,232.9h1v1h-1zM211.0,245.9h1v1h-1zM205.6,268.3h1v1h-1zM210.8,262.8h1v1h-1zM213.2,150.0h1v1h-1zM199.9,195.7h1v1h-1zM208.8,159.3h1v1h-1zM206.8,252.1h1v1h-1zM224.1,246.3h1v1h-1zM209.8,211.8h1v1h-1zM198.8,212.5h1v1h-1zM210.9,174.1h1v1h-1zM205.3,245.3h1v1h-1zM203.6,223.8h1v1h-1zM208.7,160.1h1v1h-1zM303.4,215.6h1v1h-1zM318.7,241.8h1v1h-1zM297.3,219.7h1v1h-1zM303.4,174.8h1v1h-1zM285.6,154.7h1v1h-1zM293.8,147.2h1v1h-1zM319.5,249.4h1v1h-1zM294.1,160.9h1v1h-1zM311.8,203.7h1v1h-1zM296.0,251.2h1v1h-1zM312.2,235.6h1v1h-1zM305.6,189.4h1v1h-1zM295.2,143.3h1v1h-1zM301.8,154.4h1v1h-1zM320.9,203.1h1v1h-1zM312.8,217.1h1v1h-1zM299.4,180.6h1v1h-1zM317.0,243.4h1v1h-1zM306.7,168.8h1v1h-1zM295.9,168.8h1v1h-1zM309.7,216.0h1v1h-1zM312.2,165.9h1v1h-1zM311.3,235.7h1v1h-1zM317.6,222.0h1v1h-1zM302.1,210.9h1v1h-1zM312.7,184.5h1v1h-1zM304.3,249.8h1v1h-1zM305.7,218.8h1v1h-1zM296.3,175.5h1v1h-1zM307.3,224.0h1v1h-1zM301.4,212.8h1v1h-1zM288.3,261.8h1v1h-1zM303.4,177.6h1v1h-1zM294.7,159.9h1v1h-1zM297.8,230.7h1v1h-1zM295.1,257.3h1v1h-1zM302.9,158.3h1v1h-1zM311.9,201.8h1v1h-1zM313.8,265.4h1v1h-1zM309.6,182.4h1v1h-1zM298.4,220.3h1v1h-1zM309.9,261.3h1v1h-1zM311.4,231.9h1v1h-1zM307.8,220.8h1v1h-1zM313.1,168.6h1v1h-1zM304.4,234.3h1v1h-1zM302.2,263.2h1v1h-1zM296.7,233.2h1v1h-1zM287.6,241.6h1v1h-1zM305.0,243.3h1v1h-1zM307.8,231.2h1v1h-1zM315.0,248.4h1v1h-1zM300.6,259.7h1v1h-1zM313.2,182.8h1v1h-1zM304.7,227.1h1v1h-1zM317.4,233.3h1v1h-1zM303.2,204.0h1v1h-1zM320.9,180.8h1v1h-1zM319.8,175.3h1v1h-1zM315.3,170.5h1v1h-1zM306.1,257.5h1v1h-1zM296.9,172.9h1v1h-1zM313.7,263.5h1v1h-1zM308.4,202.0h1v1h-1zM304.4,174.2h1v1h-1zM301.1,240.1h1v1h-1zM317.7,180.6h1v1h-1zM286.1,257.3h1v1h-1zM322.1,233.6h1v1h-1zM319.0,259.0h1v1h-1zM322.0,212.1h1v1h-1zM304.2,198.7h1v1h-1zM320.5,201.6h1v1h-1zM314.0,170.9h1v1h-1zM322.4,220.9h1v1h-1zM310.1,227.7h1v1h-1zM298.4,158.1h1v1h-1zM297.2,169.5h1v1h-1zM303.2,166.3h1v1h-1zM302.8,147.6h1v1h-1zM318.3,215.2h1v1h-1zM318.3,262.8h1v1h-1zM316.3,217.3h1v1h-1zM293.3,146.9h1v1h-1zM318.5,258.0h1v1h-1zM314.3,156.3h1v1h-1zM317.4,202.6h1v1h-1zM295.7,268.6h1v1h-1zM319.6,249.6h1v1h-1zM295.1,225.5h1v1h-1zM391.6,167.4h1v1h-1zM380.9,268.3h1v1h-1zM384.9,282.3h1v1h-1zM403.8,198.1h1v1h-1zM390.8,286.9h1v1h-1zM408.8,273.0h1v1h-1zM387.4,251.8h1v1h-1zM398.4,180.7h1v1h-1zM383.5,178.2h1v1h-1zM391.0,185.9h1v1h-1zM401.1,194.2h1v1h-1zM396.2,259.9h1v1h-1zM399.9,228.5h1v1h-1zM407.5,266.2h1v1h-1zM391.1,165.9h1v1h-1zM387.6,200.7h1v1h-1zM394.0,179.3h1v1h-1zM391.5,216.0h1v1h-1zM385.3,180.8h1v1h-1zM392.8,274.6h1v1h-1zM390.0,164.8h1v1h-1zM406.5,286.0h1v1h-1zM384.7,210.1h1v1h-1zM386.9,196.7h1v1h-1zM401.3,222.8h1v1h-1zM387.0,169.8h1v1h-1zM393.2,160.4h1v1h-1zM387.1,257.6h1v1h-1zM407.2,281.7h1v1h-1zM386.1,279.4h1v1h-1zM396.6,186.0h1v1h-1zM390.8,273.1h1v1h-1zM392.9,154.3h1v1h-1zM392.5,201.6h1v1h-1zM408.4,282.8h1v1h-1zM401.5,234.0h1v1h-1zM395.1,280.9h1v1h-1zM398.5,192.8h1v1h-1zM394.9,281.4h1v1h-1zM389.9,265.2h1v1h-1zM387.1,164.0h1v1h-1zM382.8,170.0h1v1h-1zM385.0,173.3h1v1h-1zM382.9,266.1h1v1h-1zM403.0,187.2h1v1h-1zM391.2,204.6h1v1h-1zM393.1,261.3h1v1h-1zM381.3,179.3h1v1h-1zM404.9,182.5h1v1h-1zM391.1,213.9h1v1h-1zM387.8,197.9h1v1h-1zM383.9,204.6h1v1h-1zM400.5,270.8h1v1h-1zM398.5,203.6h1v1h-1zM397.1,174.6h1v1h-1zM395.2,177.5h1v1h-1zM389.5,183.2h1v1h-1zM397.0,191.5h1v1h-1zM392.1,237.4h1v1h-1zM391.0,224.9h1v1h-1zM400.9,183.9h1v1h-1zM401.3,186.2h1v1h-1zM393.6,183.3h1v1h-1zM390.9,177.2h1v1h-1zM402.2,205.2h1v1h-1zM398.5,274.7h1v1h-1zM402.1,171.3h1v1h-1zM411.7,278.7h1v1h-1zM399.7,279.0h1v1h-1zM392.8,214.5h1v1h-1zM404.1,258.9h1v1h-1zM392.9,218.4h1v1h-1zM394.1,195.4h1v1h-1zM408.3,281.0h1v1h-1zM399.4,203.0h1v1h-1zM396.9,269.7h1v1h-1zM384.6,261.9h1v1h-1zM386.1,274.5h1v1h-1zM401.1,287.3h1v1h-1zM396.7,226.1h1v1h-1z" fill="#4f24c0" opacity="0.85"/>
<path d="M208.6,167.3h1v1h-1zM202.3,208.1h1v1h-1zM214.1,285.3h1v1h-1zM220.1,215.7h1v1h-1zM221.5,211.8h1v1h-1zM224.8,234.6h1v1h-1zM213.7,171.1h1v1h-1zM210.5,210.2h1v1h-1zM206.6,264.8h1v1h-1zM200.1,224.3h1v1h-1zM204.4,242.9h1v1h-1zM215.4,160.1h1v1h-1zM219.3,205.5h1v1h-1zM207.4,270.6h1v1h-1zM220.7,191.3h1v1h-1zM217.8,164.3h1v1h-1zM213.2,158.4h1v1h-1zM216.7,279.2h1v1h-1zM216.6,152.3h1v1h-1zM213.0,214.5h1v1h-1zM210.9,168.3h1v1h-1zM206.1,211.6h1v1h-1zM205.1,188.5h1v1h-1zM200.7,190.3h1v1h-1zM200.8,196.5h1v1h-1zM208.0,176.7h1v1h-1zM217.9,213.3h1v1h-1zM207.6,245.9h1v1h-1zM211.2,272.8h1v1h-1zM199.7,179.5h1v1h-1zM206.3,184.7h1v1h-1zM222.0,219.3h1v1h-1zM208.1,219.9h1v1h-1zM222.7,229.0h1v1h-1zM211.2,241.6h1v1h-1zM216.0,205.2h1v1h-1zM210.4,165.5h1v1h-1zM210.8,273.8h1v1h-1zM206.9,199.4h1v1h-1zM215.6,232.0h1v1h-1zM203.1,211.1h1v1h-1zM219.4,152.4h1v1h-1zM206.3,241.6h1v1h-1zM199.0,212.6h1v1h-1zM202.7,194.6h1v1h-1zM218.3,220.4h1v1h-1zM222.9,268.4h1v1h-1zM216.1,269.3h1v1h-1zM203.2,215.2h1v1h-1zM207.3,237.0h1v1h-1zM208.8,260.0h1v1h-1zM225.5,282.7h1v1h-1zM209.4,270.6h1v1h-1zM219.8,251.8h1v1h-1zM211.4,186.7h1v1h-1zM203.1,206.1h1v1h-1zM205.5,236.2h1v1h-1zM210.8,235.4h1v1h-1zM211.3,187.9h1v1h-1zM217.2,181.7h1v1h-1zM297.6,184.3h1v1h-1zM304.1,188.0h1v1h-1zM320.5,217.7h1v1h-1zM313.0,262.3h1v1h-1zM285.6,255.3h1v1h-1zM312.6,238.4h1v1h-1zM307.8,201.7h1v1h-1zM311.9,195.3h1v1h-1zM291.8,167.6h1v1h-1zM288.7,143.4h1v1h-1zM295.0,242.2h1v1h-1zM303.2,161.1h1v1h-1zM318.1,261.7h1v1h-1zM292.8,223.3h1v1h-1zM298.1,178.0h1v1h-1zM295.9,219.1h1v1h-1zM303.6,203.2h1v1h-1zM310.3,201.3h1v1h-1zM320.5,196.7h1v1h-1zM314.6,262.0h1v1h-1zM308.1,216.7h1v1h-1zM314.5,233.0h1v1h-1zM290.4,141.3h1v1h-1zM310.6,182.1h1v1h-1zM294.1,142.0h1v1h-1zM310.2,258.9h1v1h-1zM311.1,167.6h1v1h-1zM306.5,224.0h1v1h-1zM295.4,256.5h1v1h-1zM307.6,232.7h1v1h-1zM289.7,248.9h1v1h-1zM295.3,220.5h1v1h-1zM312.5,181.3h1v1h-1zM321.7,225.8h1v1h-1zM302.4,213.1h1v1h-1zM309.4,173.3h1v1h-1zM287.3,153.0h1v1h-1zM306.6,218.0h1v1h-1zM321.7,220.9h1v1h-1zM303.3,194.5h1v1h-1zM302.4,187.8h1v1h-1zM313.4,214.8h1v1h-1zM289.1,265.3h1v1h-1zM304.5,237.9h1v1h-1zM305.3,216.6h1v1h-1zM306.4,153.7h1v1h-1zM289.4,235.5h1v1h-1zM297.7,155.6h1v1h-1zM315.5,237.8h1v1h-1zM313.5,189.9h1v1h-1zM289.4,239.3h1v1h-1zM292.6,227.2h1v1h-1zM310.9,174.8h1v1h-1zM314.5,216.6h1v1h-1zM312.3,196.3h1v1h-1zM306.5,178.6h1v1h-1zM307.5,259.2h1v1h-1zM307.4,204.8h1v1h-1zM309.2,221.8h1v1h-1zM299.9,173.9h1v1h-1zM310.4,189.8h1v1h-1zM298.1,229.6h1v1h-1zM309.4,203.6h1v1h-1zM315.5,181.8h1v1h-1zM297.8,238.2h1v1h-1zM310.3,195.0h1v1h-1zM304.8,252.4h1v1h-1zM315.2,209.2h1v1h-1zM320.0,182.1h1v1h-1zM309.7,223.7h1v1h-1zM396.4,284.6h1v1h-1zM401.9,187.0h1v1h-1zM401.4,235.7h1v1h-1zM390.9,243.5h1v1h-1zM391.1,258.8h1v1h-1zM391.5,264.8h1v1h-1zM388.5,173.9h1v1h-1zM389.5,167.5h1v1h-1zM392.4,183.5h1v1h-1zM408.0,268.6h1v1h-1zM386.7,192.6h1v1h-1zM395.2,168.4h1v1h-1zM385.6,205.4h1v1h-1zM382.5,170.1h1v1h-1zM398.8,191.9h1v1h-1zM409.2,283.9h1v1h-1zM400.9,188.3h1v1h-1zM403.9,197.2h1v1h-1zM401.7,254.6h1v1h-1zM402.0,254.8h1v1h-1zM390.0,171.1h1v1h-1zM390.8,283.5h1v1h-1zM388.9,211.3h1v1h-1zM389.9,251.2h1v1h-1zM393.7,240.0h1v1h-1zM395.7,200.2h1v1h-1zM392.2,155.7h1v1h-1zM381.8,178.3h1v1h-1zM403.6,254.7h1v1h-1zM383.4,264.6h1v1h-1zM385.2,169.3h1v1h-1zM403.5,263.6h1v1h-1zM388.6,203.7h1v1h-1zM403.1,191.0h1v1h-1zM393.4,288.2h1v1h-1zM382.8,281.4h1v1h-1zM386.7,177.6h1v1h-1zM393.2,173.8h1v1h-1zM395.2,283.1h1v1h-1zM382.7,181.4h1v1h-1zM385.8,195.3h1v1h-1zM395.0,213.5h1v1h-1zM399.6,235.7h1v1h-1zM394.9,275.9h1v1h-1zM402.8,250.1h1v1h-1zM387.4,178.5h1v1h-1zM405.8,266.2h1v1h-1zM392.1,153.4h1v1h-1zM402.3,199.4h1v1h-1zM398.6,172.7h1v1h-1zM400.5,258.9h1v1h-1zM387.4,206.6h1v1h-1zM397.3,246.0h1v1h-1zM392.8,204.7h1v1h-1zM383.6,264.0h1v1h-1zM400.0,197.9h1v1h-1zM401.8,188.3h1v1h-1zM398.1,157.9h1v1h-1zM408.8,283.2h1v1h-1zM404.0,190.9h1v1h-1zM402.7,166.2h1v1h-1zM396.8,198.1h1v1h-1zM394.3,190.3h1v1h-1zM386.5,174.4h1v1h-1zM389.6,167.3h1v1h-1zM380.4,274.4h1v1h-1zM392.6,166.8h1v1h-1zM392.9,220.6h1v1h-1zM402.3,267.6h1v1h-1zM384.5,206.7h1v1h-1zM382.5,184.4h1v1h-1zM400.8,280.6h1v1h-1zM399.3,177.5h1v1h-1zM394.6,195.3h1v1h-1zM394.6,235.7h1v1h-1zM395.5,263.0h1v1h-1zM395.5,176.9h1v1h-1zM401.0,187.7h1v1h-1zM385.6,204.2h1v1h-1zM394.7,154.5h1v1h-1zM390.6,283.9h1v1h-1zM395.6,201.3h1v1h-1zM393.8,247.3h1v1h-1zM395.3,206.4h1v1h-1zM397.9,188.4h1v1h-1zM401.4,209.1h1v1h-1zM402.1,198.5h1v1h-1zM399.9,177.3h1v1h-1zM394.8,218.6h1v1h-1zM393.9,256.6h1v1h-1z" fill="#d8d4ff" opacity="0.9"/>
<path d="M145,330h1v1h-1zM172,277h1v1h-1zM151,328h1v1h-1zM169,341h1v1h-1zM177,284h1v1h-1zM164,338h1v1h-1zM145,311h1v1h-1zM182,293h1v1h-1zM160,269h1v1h-1zM164,270h1v1h-1zM146,323h1v1h-1zM142,328h1v1h-1zM164,297h1v1h-1zM146,307h1v1h-1zM149,305h1v1h-1zM151,329h1v1h-1zM159,334h1v1h-1zM165,274h1v1h-1zM149,334h1v1h-1zM184,286h1v1h-1zM149,321h1v1h-1zM168,341h1v1h-1zM160,339h1v1h-1zM182,278h1v1h-1zM148,326h1v1h-1zM184,278h1v1h-1zM155,334h1v1h-1zM153,328h1v1h-1zM430,316h1v1h-1zM446,262h1v1h-1zM433,317h1v1h-1zM423,307h1v1h-1zM459,282h1v1h-1zM461,274h1v1h-1zM443,330h1v1h-1zM424,307h1v1h-1zM435,319h1v1h-1zM431,321h1v1h-1zM458,267h1v1h-1zM422,309h1v1h-1zM427,296h1v1h-1zM431,297h1v1h-1zM423,310h1v1h-1zM463,277h1v1h-1zM430,295h1v1h-1zM430,307h1v1h-1zM454,264h1v1h-1zM424,299h1v1h-1zM426,308h1v1h-1zM448,333h1v1h-1zM425,318h1v1h-1zM440,326h1v1h-1zM429,307h1v1h-1zM430,321h1v1h-1zM463,269h1v1h-1zM464,271h1v1h-1z" fill="#222"/>
<path d="M352.0,129.0 C352.4,126.8 353.7,123.2 355.0,121.0 C356.3,118.8 357.5,117.3 360.0,116.0 C362.5,114.7 365.8,113.8 370.0,113.0 C374.2,112.2 377.0,111.8 385.0,111.5 C393.0,111.2 409.3,110.3 418.0,111.5 C426.7,112.7 432.0,116.3 437.0,118.5 C442.0,120.7 445.4,122.2 448.0,124.5 C450.6,126.8 452.3,130.0 452.5,132.6 C452.7,135.2 451.1,138.0 449.0,140.0 C446.9,142.0 444.8,143.4 440.0,144.5 C435.2,145.6 426.7,146.2 420.0,146.5 C413.3,146.8 406.7,146.6 400.0,146.5 C393.3,146.4 385.8,146.5 380.0,146.0 C374.2,145.5 368.8,144.6 365.0,143.5 C361.2,142.4 359.1,141.1 357.0,139.5 C354.9,137.9 353.3,135.8 352.5,134.0 C351.7,132.2 351.6,131.2 352.0,129.0Z" fill="#16e000" filter="url(#fz2)"/>
<path d="M360.6,128.5 C360.9,126.8 362.1,123.7 364.0,122.0 C365.9,120.3 366.0,119.1 372.0,118.5 C378.0,117.9 390.7,117.7 400.0,118.2 C409.3,118.7 421.0,120.0 428.0,121.5 C435.0,123.0 439.1,125.2 442.0,127.0 C444.9,128.8 446.5,130.4 445.7,132.0 C444.9,133.6 442.9,135.7 437.0,136.5 C431.1,137.3 417.8,137.2 410.0,137.0 C402.2,136.8 396.2,135.8 390.0,135.5 C383.8,135.2 377.3,135.5 372.6,135.0 C367.9,134.5 364.0,133.6 362.0,132.5 C360.0,131.4 360.3,130.2 360.6,128.5Z" fill="#f8f800" filter="url(#fz2)"/>
<path d="M196.5,307.7 C196.9,305.4 198.2,302.7 200.0,301.0 C201.8,299.3 203.7,298.0 207.0,297.3 C210.3,296.6 216.0,296.8 220.0,296.8 C224.0,296.8 227.0,296.6 231.0,297.2 C235.0,297.8 240.6,299.1 244.0,300.6 C247.4,302.1 249.7,304.1 251.5,306.0 C253.3,307.9 255.1,309.8 254.8,312.0 C254.6,314.2 252.1,317.2 250.0,319.0 C247.9,320.8 246.0,321.8 242.3,322.5 C238.6,323.2 232.7,323.2 228.0,323.3 C223.3,323.4 218.6,323.6 214.4,323.0 C210.2,322.4 205.8,321.3 203.0,320.0 C200.2,318.7 198.6,317.1 197.5,315.0 C196.4,312.9 196.1,310.0 196.5,307.7Z" fill="#16e000" filter="url(#fz2)"/>
<path d="M204.8,309.0 C205.2,308.1 204.1,306.7 207.0,306.2 C209.9,305.7 217.0,306.0 222.0,306.0 C227.0,306.0 233.8,306.0 237.0,306.3 C240.2,306.6 239.3,307.0 241.0,308.0 C242.7,309.0 247.0,311.2 247.0,312.5 C247.0,313.8 244.2,315.4 241.0,316.0 C237.8,316.6 232.5,316.1 228.0,316.0 C223.5,315.9 217.7,315.8 214.0,315.5 C210.3,315.2 207.6,315.2 206.0,314.5 C204.4,313.8 204.7,312.4 204.5,311.5 C204.3,310.6 204.4,309.9 204.8,309.0Z" fill="#f8f800" filter="url(#fz2)"/>
<path d="M242,80 L261.6,173 M257,166 L261.6,173 L266,166 M89,150 L152,189 M144,191.8 L152,189 L150,182 M71,372.4 L135,336.4 M124,335 L135,336.4 L133,345 M216.5,328 L216.5,470.5 L263,470.5 M212,339 L216.5,328 L222,338 M504,470.5 L538.5,470.5 L538.5,133.5 L463.6,133.5 M474,127 L463.6,133.5 L474,140 M315,357 L241,283 M249,283 L241,283 L241,291 M319,357 L308.6,287 M303,293 L308.6,287 L315,289 M326,357 L379,301 M370,302.4 L379,301 L378,309" fill="none" stroke="#000" stroke-width="1"/>
<rect x="587" y="188.5" width="1" height="1" fill="#000"/>
<g font-family="Liberation Sans, sans-serif" font-weight="bold" font-size="13" fill="#000" stroke="#000" stroke-width="0.15" letter-spacing="0.7"><text transform="translate(146.89,72) scale(1.006,1)">Polar</text><text transform="translate(187.17,72) scale(0.929,1)">head</text><text transform="translate(222.37,72) scale(0.926,1)">groups</text><text transform="translate(270.62,72) scale(1.075,1)">of</text><text transform="translate(287.98,72) scale(0.919,1)">lipids</text><text transform="translate(8.09,143.2) scale(0.947,1)">hydrophobic</text><text transform="translate(92.80,143.2) scale(1.030,1)">tail</text><text transform="translate(11.61,207.5) scale(0.985,1)">Bilayer</text><text transform="translate(63.11,207.5) scale(0.987,1)">membrane</text><text transform="translate(263.09,370) scale(1.012,1)">Integral</text><text transform="translate(319.60,370) scale(0.996,1)">membrane</text><text transform="translate(393.64,370) scale(0.958,1)">proteins</text><text transform="translate(4.60,390) scale(0.999,1)">Peripheral</text><text transform="translate(77.31,390) scale(0.994,1)">membrane</text><text transform="translate(4.63,404) scale(0.968,1)">protein</text><text transform="translate(55.72,404) scale(0.984,1)">interacts</text><text transform="translate(119.00,404) scale(0.957,1)">with</text><text transform="translate(150.74,404) scale(0.965,1)">polar</text><text transform="translate(4.62,418) scale(0.977,1)">head</text><text transform="translate(40.97,418) scale(0.930,1)">groups</text><text transform="translate(89.17,418) scale(1.125,1)">of</text><text transform="translate(107.00,418) scale(0.876,1)">the</text><text transform="translate(131.57,418) scale(0.933,1)">lipids</text><text transform="translate(265.00,460.6) scale(0.999,1)">Peripheral</text><text transform="translate(338.51,460.6) scale(0.993,1)">membrane</text><text transform="translate(412.06,460.6) scale(0.944,1)">proteins</text><text transform="translate(265.07,474.4) scale(0.929,1)">bind</text><text transform="translate(297.00,474.4) scale(0.923,1)">to</text><text transform="translate(313.95,474.4) scale(0.946,1)">surfaces</text><text transform="translate(372.70,474.4) scale(1.100,1)">of</text><text transform="translate(392.02,474.4) scale(0.978,1)">integral</text><text transform="translate(445.97,474.4) scale(0.925,1)">proteins</text></g>
</svg>
</body></html>
